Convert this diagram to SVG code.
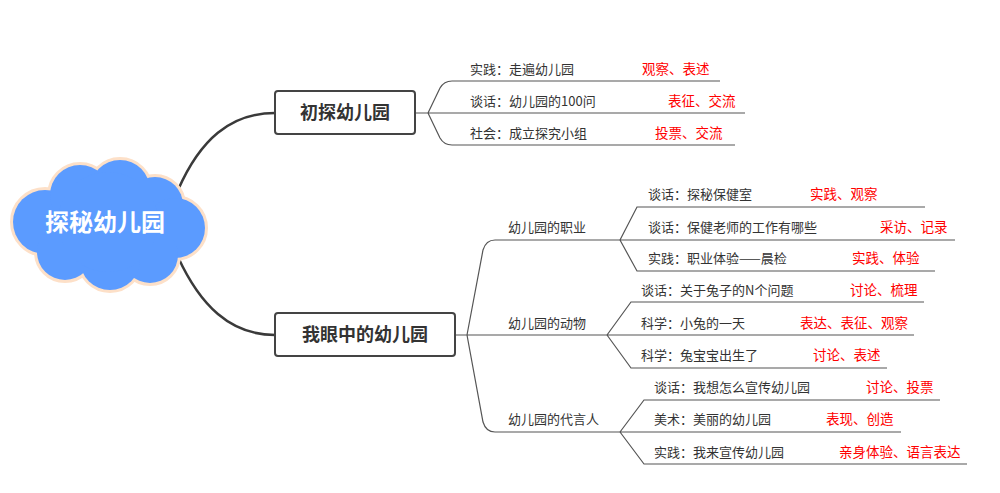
<svg xmlns="http://www.w3.org/2000/svg" width="1000" height="493" viewBox="0 0 1000 493">
<style>
text{font-family:"Noto Sans CJK SC","Liberation Sans",sans-serif}
.t{font-size:13px;fill:#333}
.r{font-size:13.5px;fill:#f00}
.b{font-size:18px;font-weight:bold;fill:#333;text-anchor:middle}
.ln{fill:none;stroke:#555;stroke-width:1.2}
.main{fill:none;stroke:#3a3a3a;stroke-width:2.5}
.box{fill:#fff;stroke:#444;stroke-width:2}
</style>
<defs>
<g id="cl">
<circle cx="45" cy="222" r="32"/><circle cx="80" cy="195" r="30"/><circle cx="120" cy="190" r="30"/><circle cx="155" cy="205" r="28"/><circle cx="175" cy="228" r="30"/><circle cx="150" cy="255" r="28"/><circle cx="110" cy="260" r="30"/><circle cx="65" cy="252" r="28"/><circle cx="108" cy="222" r="50"/>
</g>
</defs>
<g id="connectors">
<path class="main" d="M178,190 C200,140 230,113 275,113"/>
<path class="main" d="M178,257 C200,305 230,335 275,335"/>
<path class="ln" d="M415,113 H428 M428,113 L440,88 Q444,81 452,81 H720 M428,113 H745 M428,113 L440,138 Q444,145 452,145 H735"/>
<path class="ln" d="M455,335 H467 M467,335 L483,250 Q486,240 495,240 H620 M467,335 H607 M467,335 L483,422 Q486,432 495,432 H620"/>
<path class="ln" d="M620,240 L637,207 H925 M620,240 H955 M620,240 L637,271 H935"/>
<path class="ln" d="M607,335 L631,302 H924 M607,335 H914 M607,335 L631,368 H887"/>
<path class="ln" d="M620,432 L644,400 H940 M620,432 H901 M620,432 L644,464 H967"/>
</g>
<g id="root">
<use href="#cl" fill="#fde0c8" stroke="#fde0c8" stroke-width="6"/>
<use href="#cl" fill="#5b9bff"/>
<text x="105" y="231" style="font-size:24px;font-weight:bold;fill:#fff;text-anchor:middle">探秘幼儿园</text>
</g>
<g id="n1"><rect class="box" x="275" y="91" width="140" height="43" rx="3"/><text class="b" x="345" y="119">初探幼儿园</text></g>
<g id="n2"><rect class="box" x="275" y="313" width="180" height="43" rx="3"/><text class="b" x="365" y="341">我眼中的幼儿园</text></g>
<g id="l1">
<text class="t" x="470" y="74">实践：走遍幼儿园</text><text class="r" x="642" y="74">观察、表述</text>
<text class="t" x="470" y="106">谈话：幼儿园的100问</text><text class="r" x="668" y="106">表征、交流</text>
<text class="t" x="470" y="138">社会：成立探究小组</text><text class="r" x="655" y="138">投票、交流</text>
</g>
<g id="m">
<text class="t" x="508" y="232">幼儿园的职业</text>
<text class="t" x="508" y="328">幼儿园的动物</text>
<text class="t" x="508" y="424">幼儿园的代言人</text>
</g>
<g id="l2">
<text class="t" x="648" y="199">谈话：探秘保健室</text><text class="r" x="810" y="199">实践、观察</text>
<text class="t" x="648" y="232">谈话：保健老师的工作有哪些</text><text class="r" x="880" y="232">采访、记录</text>
<text class="t" x="648" y="263">实践：职业体验——晨检</text><text class="r" x="852" y="263">实践、体验</text>
<text class="t" x="641" y="295">谈话：关于兔子的N个问题</text><text class="r" x="850" y="295">讨论、梳理</text>
<text class="t" x="641" y="328">科学：小兔的一天</text><text class="r" x="800" y="328">表达、表征、观察</text>
<text class="t" x="641" y="360">科学：兔宝宝出生了</text><text class="r" x="813" y="360">讨论、表述</text>
<text class="t" x="654" y="392">谈话：我想怎么宣传幼儿园</text><text class="r" x="866" y="392">讨论、投票</text>
<text class="t" x="654" y="424">美术：美丽的幼儿园</text><text class="r" x="826" y="424">表现、创造</text>
<text class="t" x="654" y="457">实践：我来宣传幼儿园</text><text class="r" x="839" y="457">亲身体验、语言表达</text>
</g>
</svg>
